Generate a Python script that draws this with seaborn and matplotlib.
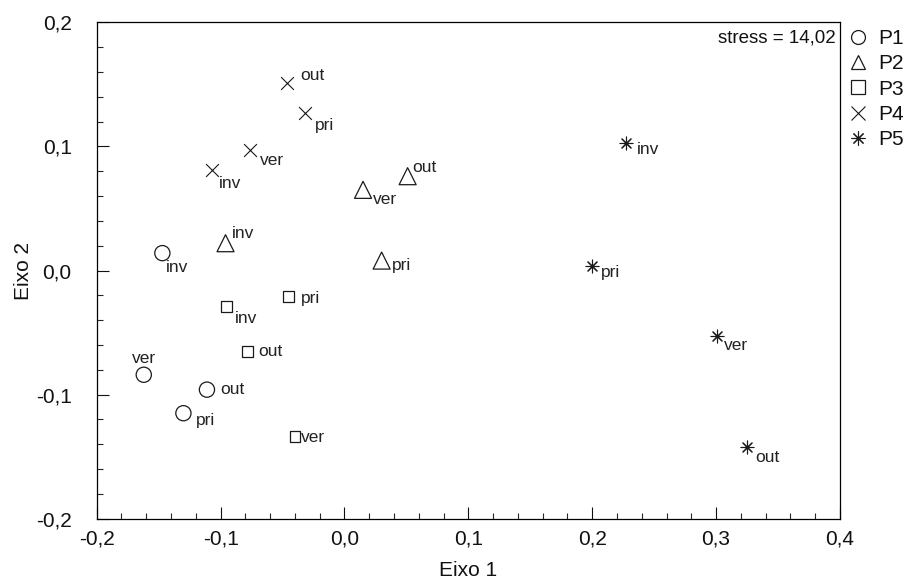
import matplotlib
matplotlib.use("Agg")
import matplotlib.pyplot as plt
import seaborn as sns
import pandas as pd
from matplotlib.ticker import MultipleLocator, FuncFormatter
from matplotlib.lines import Line2D

# ---- data ----
groups = ["P1", "P2", "P3", "P4", "P5"]
seasons = ["inv", "pri", "ver", "out"]
p1_x = [-0.147, -0.130, -0.162, -0.111]
p1_y = [0.014, -0.115, -0.084, -0.096]
p2_x = [-0.096, 0.030, 0.015, 0.051]
p2_y = [0.022, 0.008, 0.065, 0.076]
p3_x = [-0.095, -0.045, -0.040, -0.078]
p3_y = [-0.029, -0.021, -0.134, -0.065]
p4_x = [-0.107, -0.032, -0.076, -0.046]
p4_y = [0.081, 0.127, 0.097, 0.151]
p5_x = [0.227, 0.200, 0.301, 0.325]
p5_y = [0.103, 0.004, -0.053, -0.142]
stress_text = "stress = 14,02"

xs = [p1_x, p2_x, p3_x, p4_x, p5_x]
ys = [p1_y, p2_y, p3_y, p4_y, p5_y]
rows = []
for g, gx, gy in zip(groups, xs, ys):
    for s, xv, yv in zip(seasons, gx, gy):
        rows.append({"grupo": g, "estacao": s, "x": xv, "y": yv})
df = pd.DataFrame(rows)

# ---- styles ----
markers = {"P1": "o", "P2": "^", "P3": "s", "P4": "x", "P5": (8, 2, 0)}
sizes = {"P1": 120, "P2": 150, "P3": 60, "P4": 85, "P5": 85}
filled = {"P1": True, "P2": True, "P3": True, "P4": False, "P5": False}
# label offsets (pixels, x right, y up) and anchor for each point label
offsets = {
    ("P1", "inv"): (4, -14, "left"), ("P1", "pri"): (13, -7, "left"),
    ("P1", "ver"): (0, 16, "center"), ("P1", "out"): (13, 0, "left"),
    ("P2", "inv"): (6, 10, "left"), ("P2", "pri"): (10, -5, "left"),
    ("P2", "ver"): (10, -10, "left"), ("P2", "out"): (5, 9, "left"),
    ("P3", "inv"): (8, -12, "left"), ("P3", "pri"): (12, -2, "left"),
    ("P3", "ver"): (6, -1, "left"), ("P3", "out"): (10, 0, "left"),
    ("P4", "inv"): (7, -14, "left"), ("P4", "pri"): (10, -13, "left"),
    ("P4", "ver"): (10, -10, "left"), ("P4", "out"): (13, 8, "left"),
    ("P5", "inv"): (11, -7, "left"), ("P5", "pri"): (9, -7, "left"),
    ("P5", "ver"): (7, -9, "left"), ("P5", "out"): (8, -11, "left"),
}

sns.set_theme(style="white")
plt.rcParams["font.family"] = ["Liberation Sans", "DejaVu Sans"]

fig = plt.figure(figsize=(9.14, 5.84), dpi=100)
ax = fig.add_axes([0.1058, 0.1118, 0.919 - 0.1058, 0.9618 - 0.1118])

for g in groups:
    sub = df[df["grupo"] == g]
    if filled[g]:
        sns.scatterplot(data=sub, x="x", y="y", marker=markers[g], s=sizes[g],
                        facecolors="none", edgecolors="#1a1a1a", linewidths=0.9,
                        ax=ax, legend=False, zorder=3)
    else:
        sns.scatterplot(data=sub, x="x", y="y", marker=markers[g], s=sizes[g],
                        color="#1a1a1a", linewidths=0.8,
                        ax=ax, legend=False, zorder=3)

for _, r in df.iterrows():
    dx, dy, ha = offsets[(r["grupo"], r["estacao"])]
    ax.annotate(r["estacao"], (r["x"], r["y"]), xytext=(dx, dy),
                textcoords="offset pixels", ha=ha, va="center",
                fontsize=12.5, color="#222222")

ax.set_xlim(-0.2, 0.4)
ax.set_ylim(-0.2, 0.2)
ax.xaxis.set_major_locator(MultipleLocator(0.1))
ax.xaxis.set_minor_locator(MultipleLocator(0.02))
ax.yaxis.set_major_locator(MultipleLocator(0.1))
ax.yaxis.set_minor_locator(MultipleLocator(0.02))
fmt = FuncFormatter(lambda v, p: f"{v:.1f}".replace(".", ",").replace("-0,0", "0,0"))
ax.xaxis.set_major_formatter(fmt)
ax.yaxis.set_major_formatter(fmt)
ax.tick_params(axis="both", which="major", direction="in", length=8.5, width=0.8,
               labelsize=15, colors="#111111", bottom=True, left=True,
               top=False, right=False)
ax.tick_params(axis="x", which="major", pad=8)
ax.tick_params(axis="y", which="major", pad=18)
ax.tick_params(axis="both", which="minor", direction="in", length=4.3, width=0.8,
               bottom=True, left=True, top=False, right=False)
for sp in ax.spines.values():
    sp.set_color("black")
    sp.set_linewidth(0.9)

ax.set_xlabel("Eixo 1", fontsize=15, color="#111111")
ax.set_ylabel("Eixo 2", fontsize=15, color="#111111")
ax.xaxis.label.set_va("center")
ax.yaxis.label.set_va("center")
ax.xaxis.set_label_coords(0.5, -0.105)
ax.yaxis.set_label_coords(-0.099, 0.5)

ax.text(0.995, 0.968, stress_text, transform=ax.transAxes, ha="right", va="center",
        fontsize=13.5, color="#111111")

handles = []
for g in groups:
    m = markers[g]
    if filled[g]:
        h = Line2D([], [], linestyle="none", marker=m, markersize=10,
                   markerfacecolor="none", markeredgecolor="#1a1a1a", markeredgewidth=0.9)
    else:
        h = Line2D([], [], linestyle="none", marker=m, markersize=10,
                   color="#1a1a1a", markeredgewidth=0.8)
    handles.append(h)
leg = fig.legend(handles, groups, loc="upper left", bbox_to_anchor=(0.911, 0.975),
                 frameon=False, fontsize=15, handlelength=1.0, handletextpad=0.5,
                 labelspacing=0.3, borderpad=0.2)
for t in leg.get_texts():
    t.set_color("#111111")

fig.savefig("out.png", dpi=100)
